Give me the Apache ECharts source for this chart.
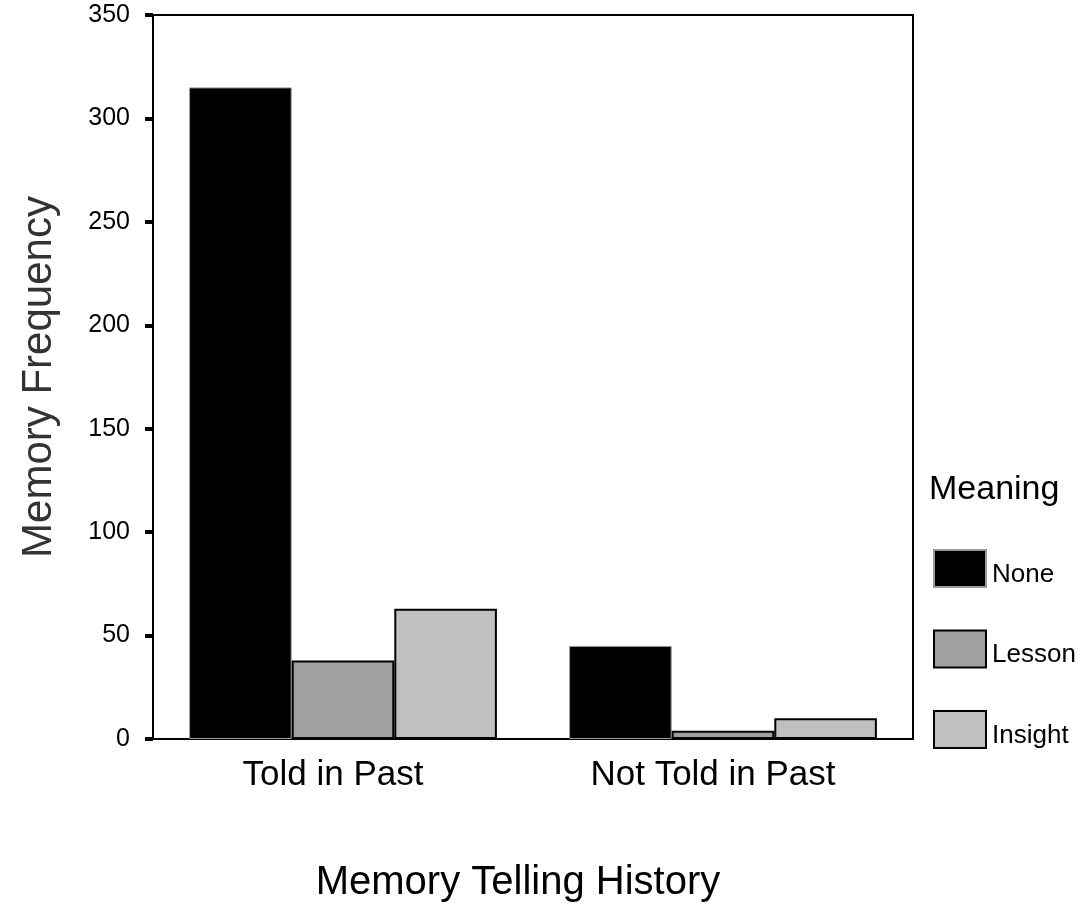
<!DOCTYPE html>
<html><head><meta charset="utf-8">
<script src="https://cdn.jsdelivr.net/npm/echarts@6/dist/echarts.min.js"></script>
<style>html,body{margin:0;padding:0;background:#fff}#c{width:1086px;height:909px}</style>
</head><body><div id="c"></div>
<script>
var categories = ['Told in Past', 'Not Told in Past'];
var seriesNames = ['None', 'Lesson', 'Insight'];
var noneValues = [315, 45];
var lessonValues = [38, 4];
var insightValues = [63, 10];
var yTicks = [0, 50, 100, 150, 200, 250, 300, 350];

var FONT = '"Liberation Sans", Arial, sans-serif';
var chart = echarts.init(document.getElementById('c'), null, {renderer: 'canvas'});
var colors = ['#000000', '#a0a0a0', '#c0c0c0'];
var borders = ['#9a9a9a', '#000000', '#000000'];
var vals = [noneValues, lessonValues, insightValues];

chart.setOption({
  animation: false,
  backgroundColor: '#fff',
  textStyle: {fontFamily: FONT},
  grid: {left: 153, right: 173, top: 15, bottom: 170, show: true, borderColor: '#000', borderWidth: 2, backgroundColor: 'transparent'},
  legend: {
    orient: 'vertical', left: 928, top: 544,
    itemWidth: 52, itemHeight: 37, itemGap: 41.5,
    icon: 'rect',
    data: seriesNames,
    formatter: '{t|{name}}',
    textStyle: {fontFamily: FONT, fontSize: 26, color: '#000',
      rich: {t: {fontFamily: FONT, fontSize: 26, color: '#000', padding: [12, 0, 0, 1]}}}
  },
  graphic: [
    {type: 'text', x: 929, y: 490, style: {text: 'Meaning', font: '34px ' + FONT, fill: '#000', textAlign: 'left', textVerticalAlign: 'middle'}},
    {type: 'text', x: 518, y: 883, style: {text: 'Memory Telling History', font: '40px ' + FONT, fill: '#000', textAlign: 'center', textVerticalAlign: 'middle'}}
  ],
  xAxis: {
    type: 'category', data: categories,
    axisLine: {lineStyle: {color: '#000', width: 2}},
    axisTick: {alignWithLabel: true, length: 7, lineStyle: {color: '#000', width: 5}},
    axisLabel: {fontSize: 35, color: '#000', margin: 19, fontFamily: FONT, padding: [0, 20, 0, 0]}
  },
  yAxis: {
    type: 'value', min: 0, max: 350, interval: 50,
    name: 'Memory Frequency', nameLocation: 'middle', nameGap: 93, nameRotate: 90,
    nameTextStyle: {fontSize: 42, color: '#333', fontFamily: FONT},
    axisLine: {show: true, lineStyle: {color: '#000', width: 2}},
    axisTick: {show: true, length: 8, lineStyle: {color: '#000', width: 4}},
    axisLabel: {fontSize: 25, color: '#000', margin: 23, fontFamily: FONT,
      formatter: function (v) { return yTicks.indexOf(v) >= 0 ? String(v) : ''; }},
    splitLine: {show: false}
  },
  series: seriesNames.map(function (n, i) {
    return {
      name: n, type: 'bar', data: vals[i],
      barGap: '0%', barCategoryGap: '19%',
      itemStyle: {color: colors[i], borderColor: borders[i], borderWidth: i === 0 ? 1 : 2}
    };
  })
});
</script></body></html>
